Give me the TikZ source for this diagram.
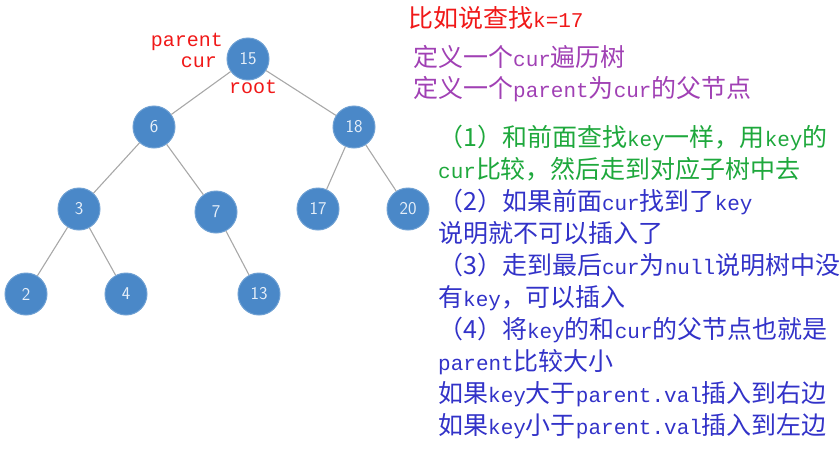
\documentclass[tikz,border=0pt]{standalone}
\usepackage{fontspec}
\usepackage{xcolor}
\usepackage{tikz}
\setmonofont{Liberation Mono}
\newfontfamily\cjk[Scale=1.19]{Noto Sans CJK SC}
\newcommand{\zh}[1]{{\cjk #1}}
\definecolor{treeblue}{HTML}{4A88C8}
\definecolor{nodetext}{HTML}{E6EFF9}
\definecolor{edgegray}{HTML}{A8A8A8}
\definecolor{notered}{HTML}{F01818}
\definecolor{notepurple}{HTML}{A040B4}
\definecolor{notegreen}{HTML}{1EA83C}
\definecolor{noteblue}{HTML}{3232C8}
\tikzset{%
    every treenode/.style={
            circle,
            fill=treeblue,
            draw=treeblue!80!white,
            line width=1pt,
            minimum size=42pt,
            inner sep=0pt,
            text=nodetext,
            font=\sffamily\fontsize{18}{18}\selectfont
        },
    tree edge/.style={
            draw=edgegray,
            line width=1.1pt
        },
    note/.style={
            anchor=base west,
            inner sep=0pt,
            font=\ttfamily\fontsize{21}{21}\selectfont
        },
    tree label/.style={
            note,
            text=notered,
            font=\ttfamily\fontsize{20}{20}\selectfont
        },
}

\begin{document}
\begin{tikzpicture}[x=1pt, y=-1pt]
        \useasboundingbox (0,0) rectangle (839,450);

        \foreach \v/\px/\py in {15/248/59, 6/154/127, 18/354/127, 3/79/209, 7/216/212,
                17/318/209, 20/408/209, 2/26/294, 4/126/294, 13/259/294}
        \node [every treenode] (node-\v) at (\px,\py) {\v};

        \foreach \a/\b in {15/6, 15/18, 6/3, 6/7, 18/17, 18/20, 3/2, 3/4, 7/13}
        \draw [tree edge] (node-\a) -- (node-\b);

        \node [tree label, anchor=base east] (lbl-parent) at (223,46) {parent};
        \node [tree label, anchor=base east] (lbl-cur) at (217,67) {cur};
        \node [tree label] (lbl-root) at (229,93) {root};

        \node [note, text=notered] (title) at (408,27) {\zh{比如说查找}k=17};
        \node [note, text=notepurple] (def-cur) at (413,66) {\zh{定义一个}cur\zh{遍历树}};
        \node [note, text=notepurple] (def-parent) at (413,97)
        {\zh{定义一个}parent\zh{为}cur\zh{的父节点}};

        \foreach \c/\t [count=\i from 0] in {
                notegreen/{\zh{（1）和前面查找}key\zh{一样，用}key\zh{的}},
                notegreen/{cur\zh{比较，然后走到对应子树中去}},
                noteblue/{\zh{（2）如果前面}cur\zh{找到了}key},
                noteblue/{\zh{说明就不可以插入了}},
                noteblue/{\zh{（3）走到最后}cur\zh{为}null\zh{说明树中没}},
                noteblue/{\zh{有}key\zh{，可以插入}},
                noteblue/{\zh{（4）将}key\zh{的和}cur\zh{的父节点也就是}},
                noteblue/{parent\zh{比较大小}},
                noteblue/{\zh{如果}key\zh{大于}parent.val\zh{插入到右边}},
                noteblue/{\zh{如果}key\zh{小于}parent.val\zh{插入到左边}}}
        \node [note, text=\c] (step-\i) at (438,146+32.1*\i) {\t};

    \end{tikzpicture}
\end{document}
